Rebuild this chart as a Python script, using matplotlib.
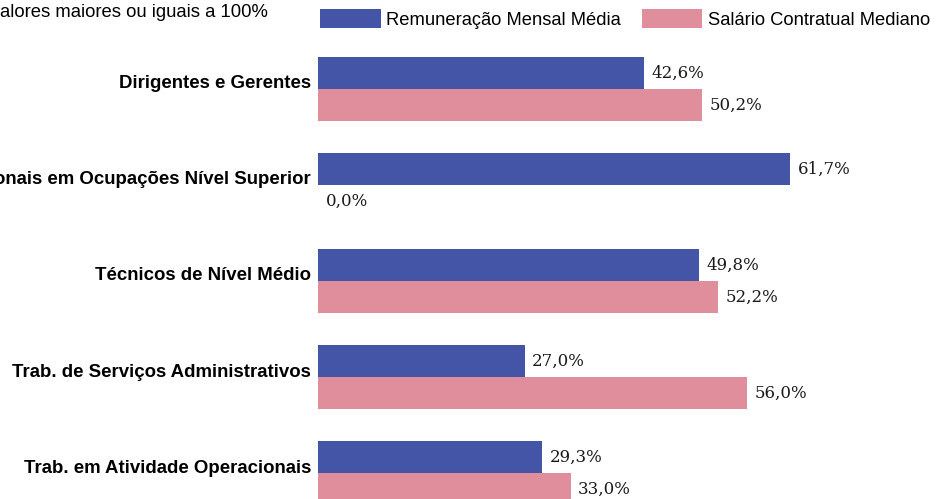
import matplotlib
matplotlib.use("Agg")
import matplotlib.pyplot as plt
import matplotlib.transforms as mtransforms
import numpy as np

categorias = [
    "Dirigentes e Gerentes",
    "Profissionais em Ocupações Nível Superior",
    "Técnicos de Nível Médio",
    "Trab. de Serviços Administrativos",
    "Trab. em Atividade Operacionais",
]
remuneracao = [42.6, 61.7, 49.8, 27.0, 29.3]
salario = [50.2, 0.0, 52.2, 56.0, 33.0]
series_nomes = ["Remuneração Mensal Média", "Salário Contratual Mediano"]

azul = "#4455A8"
rosa = "#E08E9C"

plt.rcParams['font.family'] = ['Liberation Sans', 'DejaVu Sans']

fig = plt.figure(figsize=(9.38, 4.99), dpi=100)
# eixo ocupa da barra ate a borda direita, cortado como no original
ax = fig.add_axes([318 / 938, 0, 620 / 938, 1])

y = np.arange(len(categorias))
h = 1 / 3
b1 = ax.barh(y - h / 2, remuneracao, height=h, color=azul, label=series_nomes[0])
b2 = ax.barh(y + h / 2, salario, height=h, color=rosa, label=series_nomes[1])

ax.set_xlim(0, 81.0)
ax.set_ylim(4 + 26 / 96, -89 / 96)

for bars, vals in [(b1, remuneracao), (b2, salario)]:
    for bar, v in zip(bars, vals):
        ax.annotate(f"{v:.1f}%".replace(".", ","),
                    xy=(bar.get_width(), bar.get_y() + bar.get_height() / 2),
                    xytext=(5.5, -0.5), textcoords="offset points",
                    ha="left", va="center", fontsize=12,
                    family="DejaVu Serif", color="#1a1a1a")

ax.set_yticks(y)
ax.set_yticklabels(categorias, fontsize=13.4, fontweight="bold")
ax.tick_params(axis="y", length=0, pad=5)
# rotulos um pouco acima do centro do grupo
desloc = mtransforms.ScaledTranslation(0, 7 / 100, fig.dpi_scale_trans)
for lbl in ax.get_yticklabels():
    lbl.set_transform(lbl.get_transform() + desloc)
ax.set_xticks([])
for s in ax.spines.values():
    s.set_visible(False)
ax.patch.set_alpha(0)

fig.text(0, 1 - 4 / 499, "alores maiores ou iguais a 100%", fontsize=13.3,
         ha="left", va="top")

fig.legend(handles=[b1, b2], loc="upper left",
           bbox_to_anchor=(320 / 938, 1 - 9 / 499), ncol=2, frameon=False,
           fontsize=13.2, handlelength=3.3, handleheight=1.25,
           handletextpad=0.3, columnspacing=1.15, borderpad=0,
           borderaxespad=0)

fig.savefig("out.png", dpi=100)
